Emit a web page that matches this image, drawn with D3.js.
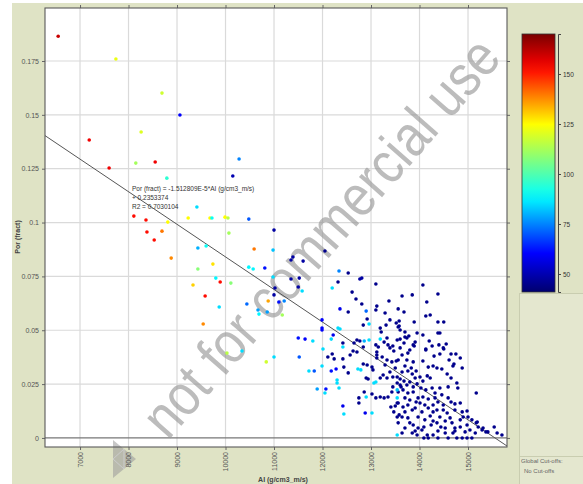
<!DOCTYPE html>
<html>
<head>
<meta charset="utf-8">
<script src="https://cdn.jsdelivr.net/npm/d3@7/dist/d3.min.js"></script>
<style>
  body { margin: 0; background: #fff; }
  svg text { font-family: "Liberation Sans", Arial, sans-serif; }
</style>
</head>
<body>
<svg id="chart" width="583" height="484"></svg>
<script>
// [AI (g/cm3_m/s), Por (fract), colour value]
const points = [
  // sparse, high porosity
  [6550,0.1865,160],[7740,0.1759,122],[8690,0.1601,118],[9060,0.1499,60],[7190,0.1383,155],[8260,0.1420,120],
  [7600,0.1253,155],[8150,0.1276,112],[8550,0.1281,155],[8790,0.1206,95],[10280,0.1295,75],[10150,0.1216,50],
  [9410,0.1072,85],[8110,0.1030,152],[8360,0.1012,152],[8810,0.1002,125],[9230,0.1021,125],[9680,0.1021,125],
  [9720,0.1021,90],[9990,0.1025,125],[10050,0.1021,115],[10480,0.1016,70],[11000,0.0965,48],[8380,0.0956,152],
  [8690,0.0960,140],[8530,0.0919,152],[10070,0.0951,112],
  [8880,0.0835,138],[9430,0.0882,80],[9600,0.0891,90],[10590,0.0877,140],[10980,0.0872,82],[9430,0.0784,108],
  [9740,0.0807,128],[10480,0.0793,88],[10570,0.0784,88],[10810,0.0789,62],[10980,0.0747,85],[9330,0.0710,130],
  [9800,0.0742,88],[9890,0.0724,152],[10110,0.0719,108],[11020,0.0696,48],[9580,0.0659,152],[11000,0.0664,48],
  [9870,0.0608,85],[10440,0.0622,72],[10670,0.0594,78],[10690,0.0575,88],[10880,0.0636,135],[10860,0.0585,78],
  [11100,0.0631,62],[11210,0.0636,75],[11170,0.0571,112],[9540,0.0529,138],[10030,0.0394,115],[10340,0.0404,85],
  [10840,0.0353,118],[11000,0.0376,85],[11520,0.0376,70],[11500,0.0464,62],[11640,0.0459,60],[11720,0.0311,85],
  [11350,0.0826,48],[11390,0.0840,48],[11600,0.0821,48],[11350,0.0738,48],[11520,0.0742,48],[11500,0.0701,48],
  [11580,0.0682,85],
  // 12000 - 13500
  [12050,0.0868,45],[12340,0.0775,75],[12530,0.0766,45],[12770,0.0738,48],[12810,0.0742,48],[12320,0.0724,45],
  [12200,0.0696,85],[13100,0.0715,45],[12610,0.0677,45],[12690,0.0645,45],[12810,0.0622,45],[12360,0.0599,58],
  [12530,0.0585,45],[12900,0.0589,72],[13120,0.0612,45],[13100,0.0594,45],[13370,0.0636,45],[13290,0.0580,45],
  [12920,0.0552,45],[12960,0.0529,85],[12840,0.0524,45],[11990,0.0548,60],[11990,0.0510,60],[11990,0.0501,60],
  [12320,0.0510,85],[12360,0.0506,85],[13390,0.0548,45],[13520,0.0534,45],[13580,0.0543,45],[13190,0.0510,45],
  [13210,0.0492,45],[13310,0.0524,45],[13560,0.0515,45],[11800,0.0450,85],[12180,0.0459,85],[12220,0.0478,58],
  [12420,0.0441,45],[12420,0.0422,85],[12710,0.0455,45],[12770,0.0450,45],[12650,0.0441,45],[12860,0.0450,80],
  [12960,0.0455,85],[13190,0.0459,85],[13330,0.0464,45],[13270,0.0445,45],[13100,0.0432,45],[13350,0.0432,45],
  [13450,0.0427,45],[13540,0.0455,45],[12010,0.0413,85],[12840,0.0422,45],
  [12110,0.0376,45],[12200,0.0390,45],[12240,0.0367,45],[12420,0.0367,45],[12630,0.0404,45],[12710,0.0399,45],
  [12570,0.0385,45],[11990,0.0334,85],[11830,0.0311,70],[12180,0.0311,62],[12280,0.0320,60],[12440,0.0329,45],
  [12730,0.0320,85],[12790,0.0316,85],[12840,0.0343,45],[12920,0.0339,45],[13020,0.0329,45],[13040,0.0316,45],
  [12530,0.0302,45],[12300,0.0269,85],[12300,0.0255,85],[11890,0.0227,78],[12070,0.0227,62],[12050,0.0209,85],
  [12340,0.0232,85],[12900,0.0278,45],[12940,0.0274,45],[13060,0.0255,85],[12860,0.0213,45],[12900,0.0190,85],
  [12750,0.0186,45],[12750,0.0162,45],[13020,0.0204,45],[13100,0.0186,45],[13190,0.0190,45],[13270,0.0186,45],
  [13350,0.0190,45],[12420,0.0148,58],[12440,0.0111,85],[12880,0.0116,58],[13020,0.0116,85],[13410,0.0144,45],
  [13500,0.0148,45],[13470,0.0121,45],[13580,0.0107,45],[13540,0.0097,45],[13540,0.0014,85],[13120,0.0385,45],
  [13150,0.0422,45],[13390,0.0418,45],[13470,0.0404,45],[13120,0.0399,45],[13230,0.0376,45],[13330,0.0362,45],
  [13430,0.0353,45],[13520,0.0357,45],[13120,0.0371,45],[13290,0.0339,45],[13500,0.0325,45],[13390,0.0306,45],
  [13250,0.0292,45],[13190,0.0278,45],[13330,0.0278,45],[13450,0.0283,45],[13100,0.0260,85],[13540,0.0255,45],
  [13450,0.0237,45],[13600,0.0246,45],[13430,0.0213,45],[13540,0.0162,45],
  // 13500 - 15700
  [14070,0.0710,45],[13640,0.0659,45],[13850,0.0664,45],[14380,0.0668,45],[14150,0.0631,45],[13560,0.0599,45],
  [13680,0.0585,45],[14130,0.0566,45],[14220,0.0571,45],[13580,0.0520,45],[13600,0.0501,45],[13890,0.0538,45],
  [14380,0.0538,45],[14500,0.0538,45],[13700,0.0492,45],[13780,0.0473,45],[13950,0.0487,45],[14070,0.0478,45],
  [14380,0.0487,45],[14420,0.0487,45],[13700,0.0469,45],[13740,0.0464,45],[13600,0.0459,45],[13910,0.0445,45],
  [13870,0.0432,45],[13680,0.0441,45],[14200,0.0450,45],[14260,0.0427,45],[14550,0.0436,45],[14400,0.0432,45],
  [14500,0.0413,45],[14130,0.0413,45],
  [13600,0.0418,45],[13760,0.0394,45],[13800,0.0408,45],[13890,0.0427,45],[14130,0.0408,45],[14300,0.0380,45],
  [14420,0.0390,45],[14490,0.0418,45],[14650,0.0390,45],[14750,0.0390,45],[14610,0.0362,45],[14710,0.0343,45],
  [14070,0.0357,45],[14180,0.0329,45],[14280,0.0334,45],[14360,0.0325,45],[14460,0.0320,45],[14570,0.0297,45],
  [14650,0.0278,45],[13700,0.0334,45],[13560,0.0362,45],[13640,0.0306,45],[13760,0.0311,45],[13850,0.0297,45],
  [13930,0.0311,45],[13540,0.0283,45],[13600,0.0274,45],[13680,0.0264,45],[13740,0.0246,45],[13800,0.0260,45],
  [14070,0.0264,45],[14030,0.0232,45],[14260,0.0232,45],[14420,0.0232,45],[14590,0.0237,45],[14770,0.0255,45],
  [14790,0.0232,45],[15170,0.0209,45],[13560,0.0213,45],[13660,0.0223,45],[13760,0.0209,45],[13870,0.0213,45],
  [13970,0.0186,45],[13930,0.0167,45],[14070,0.0190,45],[14180,0.0181,45],[14320,0.0186,45],[14380,0.0167,45],
  [14490,0.0153,45],[14590,0.0186,45],[14650,0.0167,45],[14730,0.0158,45],[14840,0.0162,45],[13560,0.0162,45],
  [13660,0.0144,45],[13760,0.0153,45],[13850,0.0130,45],[14180,0.0139,45],[14280,0.0121,45],[14220,0.0102,45],
  [14420,0.0097,45],[14570,0.0116,45],[14630,0.0093,45],[14880,0.0121,45],[14980,0.0125,45],[14900,0.0097,45],
  [15080,0.0084,45],[15170,0.0070,45],[15210,0.0051,45],[15290,0.0037,45],[13640,0.0097,45],[13760,0.0093,45],
  [13870,0.0060,45],[13970,0.0046,45],[14090,0.0051,45],[14240,0.0060,45],[14360,0.0070,45],[14440,0.0051,45],
  [14530,0.0046,45],[14670,0.0070,45],[14730,0.0046,45],[14840,0.0051,45],[14980,0.0060,45],[15040,0.0037,45],
  [15150,0.0023,45],[15370,0.0028,45],[15540,0.0051,45],[15600,0.0023,45],[15700,0.0014,45],[13700,0.0046,45],
  [13640,0.0023,45],[13850,0.0023,45],[13950,0.0014,45],[14090,0,45],[14180,0,45],[14280,0.0014,45],
  [14380,0,45],[14530,0.0023,45],[14590,0,45],[14690,0.0023,45],[14770,0,45],[14880,0,45],[14980,0,45],
  [15080,0,45],[14160,0.0014,45],[13540,0.0186,85],[13540,0.0223,82],
  [14840,0.0371,45],[14690,0.0334,45],[14880,0.0325,45],[15000,0.0097,45],[15190,0.0074,45],[15310,0.0046,45],
  [15410,0.0028,45],
  [13640,0.0385,45],[13740,0.0362,45],[13870,0.0353,45],[13830,0.0325,45],[13910,0.0278,45],[14010,0.0283,45],
  [14160,0.0288,45],[14220,0.0278,45],[13870,0.0237,45],[13950,0.0251,45],[13620,0.0237,45],[14130,0.0223,45],
  [14320,0.0209,45],[14460,0.0200,45],[13700,0.0186,45],[13800,0.0176,45],[14010,0.0162,45],[14110,0.0153,45],
  [14280,0.0153,45],[13910,0.0139,45],[14050,0.0121,45],[14360,0.0130,45],[14490,0.0130,45],[14730,0.0130,45],
  [13700,0.0121,45],[13970,0.0097,45],[14110,0.0084,45],[14280,0.0079,45],[14530,0.0079,45],[14840,0.0084,45],
  [13560,0.0070,45],[13800,0.0070,45],[14380,0.0032,45],[14730,0.0032,45],[14940,0.0028,45],[14050,0.0037,45],
  [13910,0.0032,45]
];

const xTicks = [7000, 8000, 9000, 10000, 11000, 12000, 13000, 14000, 15000];
const yTicks = [0, 0.025, 0.05, 0.075, 0.1, 0.125, 0.15, 0.175];
const colorTicks = [50, 75, 100, 125, 150];
const colorRange = [41, 170];
const fit = { slope: -1.512809e-5, intercept: 0.2353374, r2: 0.7030104 };
const fitLabel = ["Por  (fract) = -1.512809E-5*AI  (g/cm3_m/s)", "+ 0.2353374", "R2 = 0.7030104"];

const svg = d3.select("#chart");
const plot = { left: 45, top: 8, right: 507, bottom: 447 };

const x = d3.scaleLinear().domain([6278, 15804]).range([plot.left, plot.right]);
const y = d3.scaleLinear().domain([-0.0042, 0.1996]).range([plot.bottom, plot.top]);

// jet colour map
const cz = t => colorRange[0] + t * (colorRange[1] - colorRange[0]);
const jet = d3.scaleLinear()
  .domain([0, 0.15, 0.37, 0.65, 0.87, 1].map(cz))
  .range(["#00006e", "#0000ff", "#00ffff", "#ffff00", "#ff0000", "#7a0000"])
  .clamp(true);

// background panels
svg.append("rect").attr("x", 12).attr("y", 3).attr("width", 571).attr("height", 481).attr("fill", "#dfe3c5");
svg.append("rect").attr("x", 519.5).attr("y", 293.5).attr("width", 70).attr("height", 200)
  .attr("fill", "#e4e7cf").attr("stroke", "#c9cdb0");
svg.append("line").attr("x1", 519).attr("x2", 583).attr("y1", 456.5).attr("y2", 456.5).attr("stroke", "#c9cdb0");
svg.append("text").attr("x", 521).attr("y", 463).attr("font-size", 6).attr("fill", "#666").text("Global Cut-offs:");
svg.append("text").attr("x", 524).attr("y", 473).attr("font-size", 6).attr("fill", "#666").text("No Cut-offs");

svg.append("rect").attr("x", plot.left).attr("y", plot.top)
  .attr("width", plot.right - plot.left).attr("height", plot.bottom - plot.top).attr("fill", "#fff");

// grid
const grid = svg.append("g");
grid.selectAll(".gx").data(xTicks).enter().append("line")
  .attr("x1", d => x(d)).attr("x2", d => x(d)).attr("y1", plot.top).attr("y2", plot.bottom)
  .attr("stroke", "#dadada").attr("stroke-width", 1.2);
grid.selectAll(".gy").data(yTicks).enter().append("line")
  .attr("y1", d => y(d)).attr("y2", d => y(d)).attr("x1", plot.left).attr("x2", plot.right)
  .attr("stroke", d => d === 0 ? "#777" : "#dadada").attr("stroke-width", 1.2);

// watermark
svg.append("text")
  .attr("transform", "translate(168,441) rotate(-48.7)")
  .attr("font-size", 58)
  .attr("textLength", 508).attr("lengthAdjust", "spacingAndGlyphs")
  .attr("fill", "#999").attr("opacity", 0.65)
  .text("not for commercial use");
svg.append("path").attr("d", "M113,440 L136,459 L113,478 Z").attr("fill", "#999").attr("opacity", 0.55);
svg.append("path").attr("d", "M113,459 L124,449 M113,459 L124,469 M124,449 L124,469")
  .attr("stroke", "#ccc").attr("fill", "none");

// axes
svg.append("g").attr("transform", `translate(${plot.left},0)`)
  .call(d3.axisLeft(y).tickValues(yTicks).tickFormat(d => String(d)).tickSize(3).tickPadding(3));
const axisBottom = svg.append("g").attr("transform", `translate(0,${plot.bottom})`)
  .call(d3.axisBottom(x).tickValues(xTicks).tickFormat(d => String(d)).tickSize(3));
axisBottom.selectAll("text")
  .attr("transform", "rotate(-90)").attr("text-anchor", "end")
  .attr("x", -5).attr("y", 0).attr("dy", "0.35em");
svg.append("g").attr("transform", `translate(0,${plot.top})`)
  .call(d3.axisTop(x).tickValues(xTicks).tickFormat("").tickSize(3));
svg.append("g").attr("transform", `translate(${plot.right},0)`)
  .call(d3.axisRight(y).tickValues(yTicks).tickFormat("").tickSize(3));
svg.selectAll(".domain").remove();
svg.selectAll(".tick line").attr("stroke", "#666");
svg.selectAll(".tick text").attr("font-size", 7).attr("fill", "#555").attr("font-family", "Liberation Sans, Arial");

svg.append("rect").attr("x", plot.left).attr("y", plot.top)
  .attr("width", plot.right - plot.left).attr("height", plot.bottom - plot.top)
  .attr("fill", "none").attr("stroke", "#5a5a5a").attr("stroke-width", 1.1);

// fit line
svg.append("clipPath").attr("id", "plotClip").append("rect")
  .attr("x", plot.left).attr("y", plot.top).attr("width", plot.right - plot.left).attr("height", plot.bottom - plot.top);
svg.append("path")
  .datum(x.domain())
  .attr("clip-path", "url(#plotClip)")
  .attr("fill", "none").attr("stroke", "#555").attr("stroke-width", 1)
  .attr("d", d3.line().x(d => x(d)).y(d => y(fit.slope * d + fit.intercept)));

// points
svg.append("g").attr("clip-path", "url(#plotClip)")
  .selectAll("circle").data(points).enter().append("circle")
  .attr("cx", d => x(d[0])).attr("cy", d => y(d[1])).attr("r", 1.8)
  .attr("fill", d => jet(d[2]));

// equation
svg.append("g").selectAll("text").data(fitLabel).enter().append("text")
  .attr("x", 132).attr("y", (d, i) => 191 + i * 9)
  .attr("font-size", 6.5).attr("fill", "#333").text(d => d);

// axis titles
svg.append("text").attr("x", 283).attr("y", 482).attr("text-anchor", "middle")
  .attr("font-size", 7).attr("font-weight", "bold").attr("fill", "#444").text("AI  (g/cm3_m/s)");
svg.append("text").attr("transform", "translate(20,237) rotate(-90)").attr("text-anchor", "middle")
  .attr("font-size", 7).attr("font-weight", "bold").attr("fill", "#444").text("Por  (fract)");

// colour bar
const cb = { x: 522, y: 34, w: 33, h: 258 };
const cScale = d3.scaleLinear().domain(colorRange).range([cb.y + cb.h, cb.y]);
const grad = svg.append("defs").append("linearGradient").attr("id", "jetGrad")
  .attr("x1", 0).attr("x2", 0).attr("y1", 1).attr("y2", 0);
grad.selectAll("stop").data(d3.range(0, 1.001, 0.05)).enter().append("stop")
  .attr("offset", d => d).attr("stop-color", d => jet(cz(d)));
svg.append("rect").attr("x", cb.x).attr("y", cb.y).attr("width", cb.w).attr("height", cb.h)
  .attr("fill", "url(#jetGrad)").attr("stroke", "#333").attr("stroke-width", 0.8);
const cAxis = svg.append("g").attr("transform", `translate(${cb.x + cb.w + 3},0)`)
  .call(d3.axisRight(cScale).tickValues(colorTicks).tickSize(3).tickPadding(2));
cAxis.select(".domain").attr("stroke", "#444");
cAxis.selectAll(".tick line").attr("stroke", "#444");
cAxis.selectAll("text").attr("font-size", 6.5).attr("fill", "#333");
</script>
</body>
</html>
